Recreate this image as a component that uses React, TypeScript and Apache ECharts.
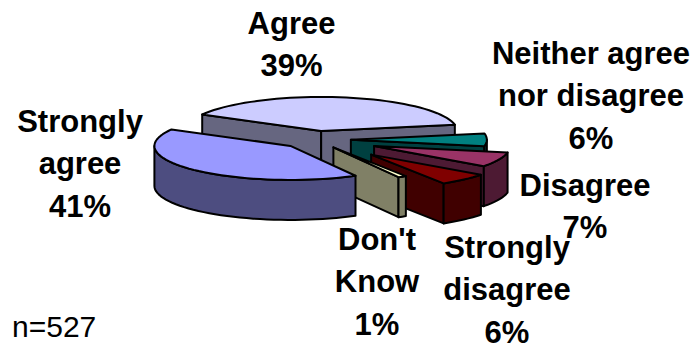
import React, { useEffect, useRef } from "react";
import * as echarts from "echarts";

// Survey response shares, drawn clockwise as an exploded 3D pie.
const categories = [
  "Agree",
  "Neither agree\nnor disagree",
  "Disagree",
  "Strongly\ndisagree",
  "Don't\nKnow",
  "Strongly\nagree",
];
const shares = [39, 6, 7, 6, 1, 41];
const sampleNote = "n=527";

// Per-slice styling and layout.
const topColors = ["#CCCCFF", "#008080", "#993366", "#800000", "#FFFFCC", "#9999FF"];
const sideColors = ["#666680", "#004040", "#4D1A33", "#400000", "#808066", "#4D4D80"];
const explodeBy = [0.26, 0.26, 0.47, 0.6, 0.26, 0.26];
const labelAnchors = [
  [291.5, 2],
  [591, 32],
  [585, 164],
  [507, 226],
  [377, 218],
  [80, 100],
];

const CENTER_X = 315.5;
const CENTER_Y = 139.7;
const RADIUS_X = 136;
const RADIUS_Y = 34;
const DEPTH = 40;
const START_ANGLE = 151;
const LINE_HEIGHT = 42.5;

const rad = (deg: number) => (deg * Math.PI) / 180;
const total = shares.reduce((a, b) => a + b, 0);

function arcPoints(cx: number, cy: number, from: number, to: number, drop = 0) {
  const steps = Math.max(2, Math.ceil(Math.abs(from - to) / 3));
  const pts: number[][] = [];
  for (let i = 0; i <= steps; i++) {
    const a = rad(from + ((to - from) * i) / steps);
    pts.push([cx + RADIUS_X * Math.cos(a), cy - RADIUS_Y * Math.sin(a) + drop]);
  }
  return pts;
}

function renderSlice(params: any, api: any) {
  const index = params.dataIndex;
  const before = shares.slice(0, index).reduce((a, b) => a + b, 0);
  const a1 = START_ANGLE - (before / total) * 360;
  const a2 = a1 - (api.value(0) / total) * 360;
  const mid = rad((a1 + a2) / 2);
  const cx = CENTER_X + explodeBy[index] * RADIUS_X * Math.cos(mid);
  const cy = CENTER_Y - explodeBy[index] * RADIUS_Y * Math.sin(mid);

  const edge = { stroke: "#000", lineWidth: 2, lineJoin: "round" };
  const side = { ...edge, fill: sideColors[index] };
  const children: any[] = [];

  const radialFace = (deg: number) => {
    const [p] = arcPoints(cx, cy, deg, deg - 1);
    children.push({
      type: "polygon",
      shape: { points: [[cx, cy], p, [p[0], p[1] + DEPTH], [cx, cy + DEPTH]] },
      style: side,
    });
  };
  // A cut face is only visible when it turns towards the viewer.
  if (Math.cos(rad(a1)) < 0) radialFace(a1);
  if (Math.cos(rad(a2)) > 0) radialFace(a2);

  // Outer wall: the part of the rim on the near half of the ellipse.
  const rimFrom = Math.min(a1, 0);
  const rimTo = Math.max(a2, -180);
  if (rimFrom > rimTo) {
    const upper = arcPoints(cx, cy, rimFrom, rimTo);
    const lower = arcPoints(cx, cy, rimTo, rimFrom, DEPTH);
    children.push({ type: "polygon", shape: { points: [...upper, ...lower] }, style: side });
  }

  children.push({
    type: "polygon",
    shape: { points: [[cx, cy], ...arcPoints(cx, cy, a1, a2)] },
    style: { ...edge, fill: topColors[index] },
  });
  return { type: "group", children };
}

export default function App() {
  const ref = useRef<HTMLDivElement>(null);
  useEffect(() => {
    const chart = echarts.init(ref.current!, undefined, { renderer: "svg" });
    const font = { fontFamily: "Liberation Sans", fontSize: 31, fill: "#000" };
    chart.setOption({
      animation: false,
      backgroundColor: "#fff",
      series: [
        {
          type: "custom",
          coordinateSystem: "none",
          renderItem: renderSlice,
          data: shares.map((v) => [v]),
          silent: true,
        },
      ],
      graphic: [
        ...categories.map((name, i) => ({
          type: "text",
          x: labelAnchors[i][0],
          y: labelAnchors[i][1],
          z: 10,
          style: {
            ...font,
            fontWeight: "bold",
            text: `${name}\n${shares[i]}%`,
            align: "center",
            lineHeight: LINE_HEIGHT,
          },
        })),
        {
          type: "text",
          x: 12,
          y: 311,
          z: 10,
          style: { ...font, fontSize: 30, text: sampleNote },
        },
      ],
    });
    return () => chart.dispose();
  }, []);
  return <div ref={ref} style={{ position: "absolute", left: 0, top: 0, width: 696, height: 346 }} />;
}
